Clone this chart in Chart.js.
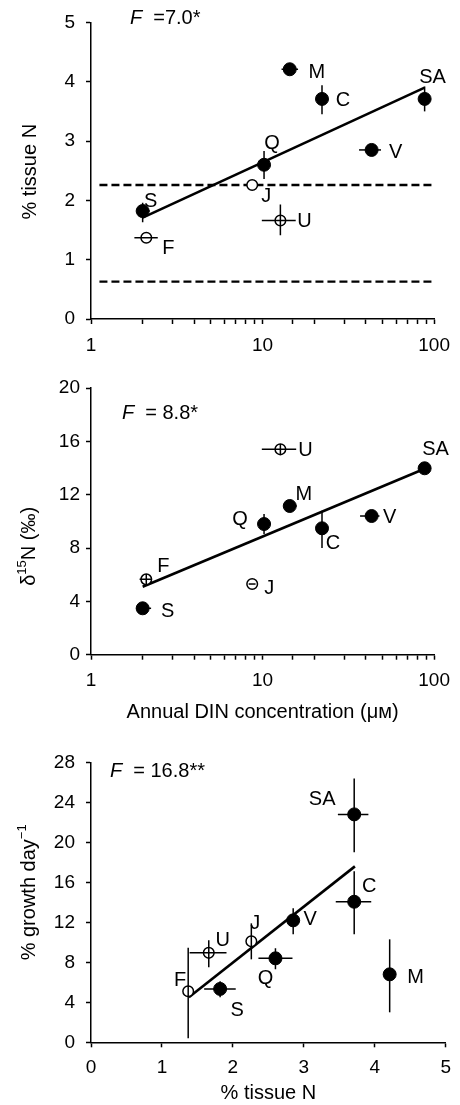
<!DOCTYPE html>
<html>
<head>
<meta charset="utf-8">
<script src="https://cdn.jsdelivr.net/npm/chart.js@4.4.1/dist/chart.umd.min.js"></script>
<style>
  body { margin: 0; background: #fff; }
  #wrap { position: relative; width: 460px; height: 1105px; }
  canvas { position: absolute; left: 0; }
</style>
</head>
<body>
<div id="wrap">
  <canvas id="c1" width="460" height="360" style="top:0px"></canvas>
  <canvas id="c2" width="460" height="380" style="top:360px"></canvas>
  <canvas id="c3" width="460" height="365" style="top:740px"></canvas>
</div>
<script>
const sites = ['S', 'F', 'Q', 'J', 'U', 'M', 'C', 'V', 'SA'];
const openSites = ['F', 'J', 'U'];

const din = [2.0, 2.1, 10.2, 8.7, 12.7, 14.4, 22.2, 43.2, 88];
const tissueN = [1.82, 1.37, 2.60, 2.26, 1.66, 4.21, 3.71, 2.85, 3.71];
const d15N = [3.48, 5.65, 9.8, 5.3, 15.4, 11.15, 9.48, 10.4, 13.98];
const growth = [5.34, 5.1, 8.4, 10.1, 8.95, 6.8, 14.06, 12.2, 22.8];

// error bar ends (null = no bar)
const dinLo1 = [1.85, 1.79, null, null, 9.9, 12.9, 20.6, 36.5, null];
const dinHi1 = [2.2, 2.45, null, null, 15.6, 16.1, 24.0, 49, null];
const tissueNLo1 = [1.63, null, 2.36, null, 1.41, null, 3.45, null, 3.50];
const tissueNHi1 = [1.96, null, 2.83, null, 1.93, null, 3.94, null, 3.92];

const dinLo2 = [1.84, 1.92, null, 8.3, 9.9, 13.3, 20.5, 37, null];
const dinHi2 = [2.24, 2.25, null, 9.1, 15.7, 15.8, 24.0, 48, null];
const d15NLo = [null, 5.25, 9.05, null, 15.0, 10.75, 8.0, null, null];
const d15NHi = [null, 6.05, 10.55, null, 15.8, 11.55, 10.8, null, null];

const tissueNLo3 = [1.595, null, 2.36, null, 1.39, null, 3.45, null, 3.48];
const tissueNHi3 = [2.04, null, 2.84, null, 1.91, null, 3.95, null, 3.91];
const growthLo = [4.5, 0.4, 7.3, 8.3, 7.5, 3.0, 10.8, 10.8, 19.0];
const growthHi = [6.1, 9.45, 9.4, 11.9, 10.2, 10.3, 17.1, 13.4, 26.4];

// regression lines and critical tissue N levels
const fit1X = [2.0, 88], fit1Y = [1.71, 3.90];
const fit2X = [2.0, 88], fit2Y = [5.1, 13.95];
const fit3X = [1.38, 3.72], fit3Y = [4.5, 17.6];
const critX = [1.12, 97];
const critN = [2.26, 0.63];

const logLabels = [1, 10, 100];
const FONT = '"Liberation Sans", Arial, sans-serif';

Chart.defaults.font.family = FONT;
Chart.defaults.color = '#000';

function marksPlugin(p) {
  return {
    id: 'marks',
    afterDatasetsDraw(chart) {
      const ctx = chart.ctx, xs = chart.scales.x, ys = chart.scales.y;
      const area = chart.chartArea;
      ctx.save();
      ctx.strokeStyle = '#000';
      ctx.fillStyle = '#000';
      ctx.lineWidth = 1.5;
      p.xv.forEach((xv, i) => {
        const px = xs.getPixelForValue(xv), py = ys.getPixelForValue(p.yv[i]);
        ctx.beginPath();
        if (p.xLo[i] != null) {
          ctx.moveTo(xs.getPixelForValue(p.xLo[i]), py);
          ctx.lineTo(xs.getPixelForValue(p.xHi[i]), py);
        }
        if (p.yLo[i] != null) {
          ctx.moveTo(px, ys.getPixelForValue(p.yLo[i]));
          ctx.lineTo(px, ys.getPixelForValue(p.yHi[i]));
        }
        ctx.stroke();
        const off = p.labelPos[sites[i]];
        ctx.font = '20px ' + FONT;
        ctx.textAlign = 'center';
        ctx.textBaseline = 'middle';
        ctx.fillText(sites[i], px + off[0], py + off[1]);
      });

      // F statistic
      ctx.textAlign = 'left';
      ctx.textBaseline = 'middle';
      const fx = area.left + p.fPos[0], fy = area.top + p.fPos[1];
      ctx.font = 'italic 20px ' + FONT;
      ctx.fillText('F', fx, fy);
      const fw = ctx.measureText('F').width;
      ctx.font = '20px ' + FONT;
      ctx.fillText(p.fText, fx + fw + 11, fy);

      // y title with superscripts
      ctx.translate(p.yTitlePos[0], (area.top + area.bottom) / 2 + p.yTitlePos[1]);
      ctx.rotate(-Math.PI / 2);
      const segFont = s => (s.sup ? '13px ' : '20px ') + FONT;
      let total = 0;
      p.yTitle.forEach(s => { ctx.font = segFont(s); total += ctx.measureText(s.t).width; });
      let x = -total / 2;
      p.yTitle.forEach(s => {
        ctx.font = segFont(s);
        ctx.fillText(s.t, x, s.sup ? -7 : 0);
        x += ctx.measureText(s.t).width;
      });
      ctx.restore();
    }
  };
}

function makePanel(id, p) {
  const filled = [], open = [];
  p.xv.forEach((x, i) => {
    (openSites.includes(sites[i]) ? open : filled).push({ x: x, y: p.yv[i] });
  });
  const datasets = [
    { data: open, pointRadius: 5.3, pointBackgroundColor: '#fff', pointBorderColor: '#000', pointBorderWidth: 1.5 },
    { data: filled, pointRadius: 6.5, pointBackgroundColor: '#000', pointBorderColor: '#000', pointBorderWidth: 1 },
    { data: p.fitX.map((x, i) => ({ x: x, y: p.fitY[i] })), showLine: true, borderColor: '#000', borderWidth: 2.6, pointRadius: 0 },
  ];
  (p.crit || []).forEach(v => {
    datasets.push({
      data: critX.map(x => ({ x: x, y: v })), showLine: true, borderColor: '#000',
      borderWidth: 2.4, borderDash: [8, 4], pointRadius: 0,
    });
  });

  const axisCommon = {
    border: { color: '#000', width: 1.5 },
    grid: { drawOnChartArea: false, tickLength: 5, tickColor: '#000', tickWidth: 1.5 },
  };

  return new Chart(document.getElementById(id), {
    type: 'scatter',
    data: { datasets: datasets },
    options: {
      responsive: false,
      animation: false,
      layout: { padding: { top: p.top, right: p.right, bottom: 0, left: 0 } },
      plugins: { legend: { display: false }, tooltip: { enabled: false } },
      scales: {
        x: Object.assign({}, axisCommon, {
          type: p.xLog ? 'logarithmic' : 'linear',
          min: p.xMin,
          max: p.xMax,
          afterFit: s => { s.height = p.xAxisH; },
          ticks: {
            autoSkip: false,
            maxRotation: 0,
            padding: p.xTickPad,
            stepSize: 1,
            font: { size: 19 },
            callback: p.xLog ? (v => (logLabels.includes(v) ? String(v) : '')) : (v => String(v)),
          },
          title: {
            display: !!p.xTitle,
            text: p.xTitle || '',
            font: { size: 20 },
            padding: { top: 0, bottom: p.xTitlePad || 0 },
          },
        }),
        y: Object.assign({}, axisCommon, {
          min: 0,
          max: p.yMax,
          afterFit: s => { s.width = 91; },
          ticks: { stepSize: p.yStep, padding: p.yTickPad, font: { size: 19 } },
        }),
      },
    },
    plugins: [marksPlugin(p)],
  });
}

makePanel('c1', {
  xv: din, yv: tissueN, xLo: dinLo1, xHi: dinHi1, yLo: tissueNLo1, yHi: tissueNHi1,
  fitX: fit1X, fitY: fit1Y, crit: critN,
  xLog: true, xMin: 1, xMax: 100, yMax: 5, yStep: 1,
  top: 21, right: 16, xAxisH: 41, xTickPad: 10, yTickPad: 11,
  fText: '=7.0*', fPos: [39, -4],
  yTitle: [{ t: '% tissue N' }], yTitlePos: [30, 1],
  labelPos: { S: [8, -10], F: [22, 11], Q: [8, -21], J: [14, 12], U: [24, 1], M: [27, 3], C: [21, 2], V: [24, 3], SA: [8, -21] },
});

makePanel('c2', {
  xv: din, yv: d15N, xLo: dinLo2, xHi: dinHi2, yLo: d15NLo, yHi: d15NHi,
  fitX: fit2X, fitY: fit2Y,
  xLog: true, xMin: 1, xMax: 100, yMax: 20, yStep: 4,
  top: 28, right: 20, xAxisH: 85.3, xTickPad: 10, yTickPad: 6,
  xTitle: 'Annual DIN concentration (\u03bc\u043c)', xTitlePad: 16,
  fText: '= 8.8*', fPos: [31, 25],
  yTitle: [{ t: '\u03b4' }, { t: '15', sup: true }, { t: 'N (\u2030)' }], yTitlePos: [29, 25],
  labelPos: { S: [25, 3], F: [17, -13], Q: [-24, -5], J: [17, 4], U: [25, 1], M: [14, -12], C: [11, 15], V: [18, 1], SA: [11, -19] },
});

makePanel('c3', {
  xv: tissueN, yv: growth, xLo: tissueNLo3, xHi: tissueNHi3, yLo: growthLo, yHi: growthHi,
  fitX: fit3X, fitY: fit3Y,
  xLog: false, xMin: 0, xMax: 5, yMax: 28, yStep: 4,
  top: 19, right: 12, xAxisH: 62.7, xTickPad: 9, yTickPad: 11,
  xTitle: '% tissue N', xTitlePad: 0,
  fText: '= 16.8**', fPos: [19, 9],
  yTitle: [{ t: '% growth day' }, { t: '\u22121', sup: true }], yTitlePos: [29, -10],
  labelPos: { S: [17, 22], F: [-8, -11], Q: [-10, 20], J: [4, -18], U: [14, -12], M: [26, 3], C: [15, -15], V: [17, -1], SA: [-32, -15] },
});
</script>
</body>
</html>
